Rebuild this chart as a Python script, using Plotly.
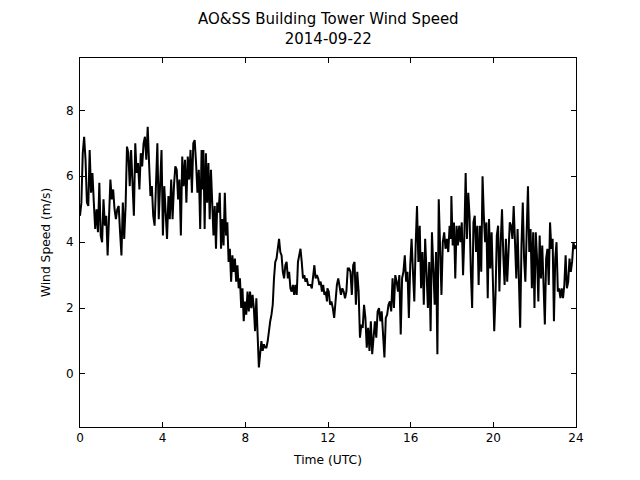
import numpy as np
import plotly.graph_objects as go

# Wind speed (m/s), in four six-hour pieces
speed_00_06 = [4.8, 5.2, 6.7, 7.2, 6.5, 5.2, 5.1, 6.8, 5.5, 6.1, 5.2, 4.4, 5.0, 4.3, 5.8, 4.2, 4.0,
               5.3, 4.5, 4.8, 3.6, 4.9, 5.9, 5.3, 5.6, 5.0, 4.7, 5.0, 5.1, 4.3, 3.6, 5.2, 4.1,
               5.1, 6.9, 6.7, 5.7, 6.8, 5.7, 4.8, 7.0, 6.1, 6.4, 5.6, 6.7, 6.3, 7.0, 7.2, 6.5,
               7.5, 6.4, 5.4, 5.7, 4.8, 4.5, 5.6, 7.0, 4.7, 6.1, 6.8, 4.2, 5.7, 4.9, 4.1, 5.4,
               4.7, 5.9, 4.7, 5.7, 6.3, 6.2, 5.3, 5.9, 4.2, 6.6, 5.7, 6.5, 5.2, 6.6, 5.9, 6.8,
               5.5, 7.0, 7.1, 6.4, 5.5, 6.2, 4.4, 6.8, 5.6]
speed_06_12 = [6.8, 4.4, 6.7, 5.2, 6.4, 4.7, 6.2, 5.0, 4.2, 5.1, 3.8, 5.2, 4.9, 5.5, 3.8, 4.7,
               3.9, 5.5, 4.2, 4.6, 3.4, 3.8, 2.8, 3.6, 3.1, 3.5, 2.8, 3.3, 2.6, 2.9, 2.0, 2.6,
               1.6, 2.2, 1.8, 2.5, 1.9, 2.5, 2.0, 2.4, 2.0, 1.3, 2.3, 1.2, 0.2, 0.6, 1.0, 0.7,
               0.9, 0.8, 0.8, 1.0, 1.4, 1.6, 1.8, 2.1, 2.9, 3.4, 3.5, 3.8, 4.1, 3.7, 3.6, 3.1,
               2.9, 3.3, 3.4, 2.9, 3.1, 2.6, 2.5, 2.7, 2.4, 2.7, 2.4, 3.4, 3.6, 3.8, 3.4, 2.9,
               3.0, 2.8, 2.9, 2.7, 2.7, 2.7, 2.6, 2.9, 3.3, 2.9, 3.0, 2.9, 2.7, 2.8, 2.5, 2.7,
               2.4, 2.5, 2.2]
speed_12_18 = [2.6, 2.5, 2.1, 2.2, 2.0, 1.7, 2.2, 2.7, 2.9, 2.7, 2.4, 2.6, 2.5, 2.3, 2.5, 3.2,
               3.2, 3.1, 2.4, 3.3, 3.4, 2.1, 3.1, 2.5, 1.1, 1.5, 1.4, 2.1, 1.7, 0.8, 1.4, 0.7,
               1.6, 0.6, 1.0, 1.6, 1.1, 1.9, 2.0, 1.6, 1.9, 1.1, 0.5, 1.7, 1.8, 2.1, 2.2, 1.9,
               2.9, 2.0, 3.0, 2.8, 2.5, 3.0, 1.2, 2.9, 3.1, 3.6, 2.8, 3.1, 1.7, 3.3, 4.1, 3.1,
               2.2, 3.9, 5.1, 3.4, 4.5, 2.6, 3.7, 2.1, 4.1, 3.1, 2.0, 3.4, 1.3, 4.3, 3.3, 2.1,
               3.7, 0.6, 5.3, 4.1, 2.4, 4.0, 4.3, 3.8, 4.1, 3.7, 4.5, 4.1]
speed_18_24 = [5.4, 3.9, 4.6, 2.9, 4.5, 3.9, 4.5, 4.0, 4.6, 3.0, 4.2, 6.1, 4.1, 5.5, 4.8, 3.1,
               2.0, 4.6, 4.8, 3.7, 4.5, 2.7, 4.5, 3.1, 6.0, 4.8, 4.0, 4.6, 2.3, 4.7, 3.2, 4.3,
               2.7, 1.3, 2.4, 4.2, 4.5, 2.5, 4.0, 5.0, 3.6, 2.7, 4.1, 2.8, 3.7, 4.6, 4.5, 4.1,
               5.1, 3.9, 2.9, 4.4, 2.6, 1.4, 3.9, 5.2, 3.5, 2.8, 4.3, 5.7, 3.7, 4.4, 2.6, 4.3,
               2.0, 4.3, 3.5, 2.2, 4.2, 2.9, 3.9, 2.4, 1.5, 3.5, 3.8, 2.7, 4.6, 3.8, 4.1, 1.6,
               3.5, 4.0, 2.5, 2.6, 2.3, 2.6, 2.3, 2.7, 3.6, 2.6, 2.8, 3.5, 3.1, 3.4, 4.0, 3.8, 3.9]

# Time span (UTC hours) of each piece
span_00_06 = (0.0, 5.95)
span_06_12 = (5.97, 11.95)
span_12_18 = (11.97, 17.95)
span_18_24 = (17.97, 24.0)

pieces = [(speed_00_06, span_00_06), (speed_06_12, span_06_12),
          (speed_12_18, span_12_18), (speed_18_24, span_18_24)]
time_h = np.concatenate([np.linspace(s[0], s[1], len(v)) for v, s in pieces])
speed = np.concatenate([np.array(v) for v, s in pieces])

x_ticks = [0, 4, 8, 12, 16, 20, 24]
y_ticks = [0, 2, 4, 6, 8]

fig = go.Figure()
fig.add_trace(go.Scatter(x=time_h, y=speed, mode="lines",
                         line=dict(color="black", width=2), showlegend=False))

font = "DejaVu Sans, sans-serif"
axis_common = dict(showline=True, linecolor="black", linewidth=1, mirror="ticks",
                   ticks="inside", ticklen=5, tickwidth=1, tickcolor="black",
                   showgrid=False, zeroline=False,
                   tickfont=dict(family=font, size=12, color="black"))

# the page body has an 8px margin, so the figure is sized/offset to compensate
fig.update_layout(
    width=632, height=472,
    margin=dict(l=72, r=64, t=50, b=53, autoexpand=False),
    paper_bgcolor="white", plot_bgcolor="white",
    font=dict(family=font, color="black"),
    xaxis=dict(range=[0, 24], tickvals=x_ticks, ticktext=[str(t) for t in x_ticks],
               title=dict(text="Time (UTC)", font=dict(family=font, size=12.3), standoff=10),
               automargin=False, **axis_common),
    yaxis=dict(range=[-1.61, 9.59], tickvals=y_ticks, ticktext=[str(t) for t in y_ticks],
               title=dict(text="Wind Speed (m/s)", font=dict(family=font, size=12.3), standoff=12),
               ticklabelstandoff=3, automargin=False, **axis_common),
)

fig.add_annotation(text="AO&SS Building Tower Wind Speed<br>2014-09-22",
                   xref="paper", yref="paper", x=0.5, y=1, xanchor="center", yanchor="bottom",
                   yshift=8, showarrow=False, align="center",
                   font=dict(family=font, size=15, color="black"))

fig.write_html("out.html")
